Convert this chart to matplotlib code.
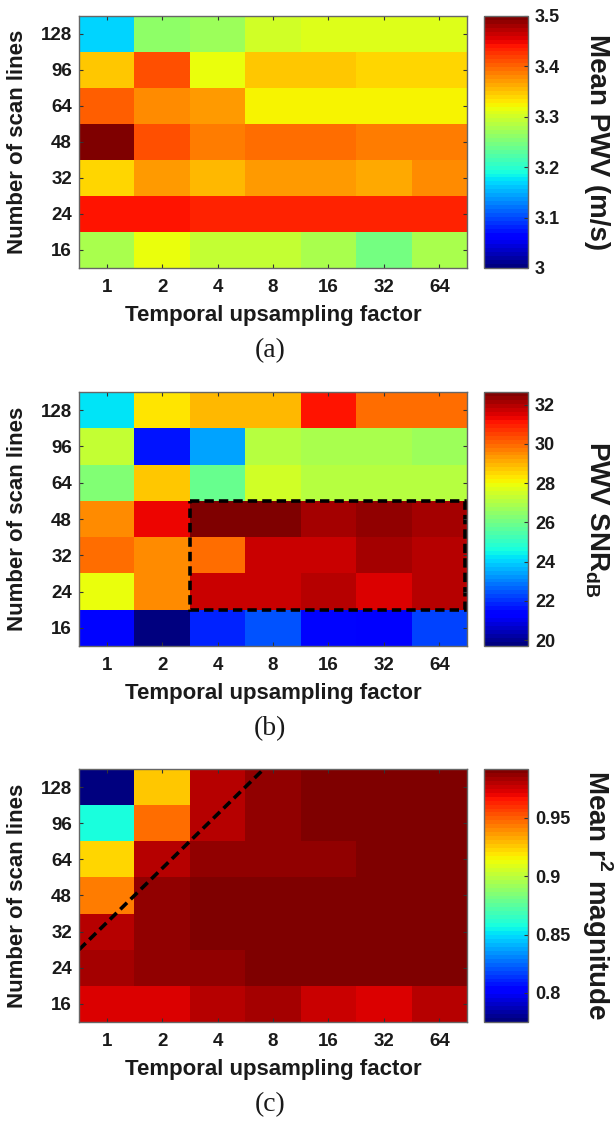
import numpy as np
import matplotlib.pyplot as plt
from matplotlib.colors import Normalize
from matplotlib.patches import Rectangle
from matplotlib.ticker import FuncFormatter

plt.rcParams['font.family'] = ['Liberation Sans', 'DejaVu Sans']
plt.rcParams['mathtext.fontset'] = 'custom'
plt.rcParams['mathtext.rm'] = 'Liberation Sans'
plt.rcParams['mathtext.bf'] = 'Liberation Sans:bold'

factors = ["1", "2", "4", "8", "16", "32", "64"]
scan_lines = ["128", "96", "64", "48", "32", "24", "16"]

# rows follow scan_lines (top to bottom), columns follow factors
mean_pwv = [
    [3.170, 3.265, 3.270, 3.300, 3.310, 3.310, 3.305],
    [3.350, 3.410, 3.320, 3.345, 3.345, 3.340, 3.340],
    [3.405, 3.380, 3.370, 3.328, 3.328, 3.328, 3.328],
    [3.500, 3.410, 3.385, 3.395, 3.395, 3.390, 3.390],
    [3.340, 3.370, 3.355, 3.370, 3.370, 3.360, 3.380],
    [3.445, 3.440, 3.430, 3.430, 3.430, 3.430, 3.430],
    [3.275, 3.320, 3.290, 3.290, 3.275, 3.245, 3.280],
]

pwv_snr = [
    [24.2, 28.25, 28.9, 28.9, 31.1, 29.9, 29.9],
    [27.2, 21.6, 23.5, 27.0, 26.9, 26.9, 26.7],
    [26.2, 28.8, 25.8, 27.4, 27.0, 27.0, 27.0],
    [29.5, 31.35, 32.65, 32.5, 32.2, 32.35, 32.2],
    [30.0, 29.6, 30.0, 31.8, 31.8, 32.1, 31.9],
    [27.9, 29.5, 31.8, 31.8, 32.0, 31.6, 32.0],
    [21.5, 19.7, 21.8, 22.4, 21.5, 21.3, 22.2],
]

mean_r2 = [
    [0.775, 0.925, 0.980, 0.9877, 0.990, 0.990, 0.990],
    [0.857, 0.946, 0.980, 0.9877, 0.990, 0.990, 0.990],
    [0.923, 0.979, 0.9877, 0.9877, 0.9877, 0.9916, 0.9916],
    [0.944, 0.9877, 0.992, 0.992, 0.992, 0.992, 0.992],
    [0.979, 0.9877, 0.990, 0.990, 0.990, 0.990, 0.990],
    [0.983, 0.9877, 0.9877, 0.990, 0.990, 0.990, 0.990],
    [0.9725, 0.9746, 0.980, 0.983, 0.977, 0.9725, 0.981],
]

# dashed box on the SNR map: columns 4..64, rows 48..24
box_cols = ("4", "64")
box_rows = ("48", "24")

# dashed diagonal on the r^2 map, through two cell corners
# (corners counted as columns from the left edge, rows from the bottom edge)
diag_corners = [(0, 2), (2, 5)]

W, H = 614, 1123
fig = plt.figure(figsize=(W / 100, H / 100), dpi=100)
cmap = plt.get_cmap('jet', 64)
txt = '#1a1a1a'
frame = '#666666'


def px_axes(x0, y0, x1, y1):
    return fig.add_axes([x0 / W, 1 - y1 / H, (x1 - x0) / W, (y1 - y0) / H])


panels = [
    (mean_pwv, 16, 268, (3.0, 3.5), [3.0, 3.1, 3.2, 3.3, 3.4, 3.5],
     "Mean PWV (m/s)", "(a)"),
    (pwv_snr, 392, 646, None, [20, 22, 24, 26, 28, 30, 32],
     r"PWV SNR$_\mathbf{dB}$", "(b)"),
    (mean_r2, 769, 1022, None, [0.8, 0.85, 0.9, 0.95],
     r"Mean r$^\mathbf{2}$ magnitude", "(c)"),
]

axes = []
for data, top, bottom, lims, cticks, clabel, tag in panels:
    arr = np.array(data)
    if lims is None:
        lims = (arr.min(), arr.max())
    ax = px_axes(79, top, 467, bottom)
    im = ax.imshow(arr, cmap=cmap, norm=Normalize(*lims), aspect='auto',
                   interpolation='nearest')
    ax.set_xticks(range(len(factors)))
    ax.set_xticklabels(factors)
    ax.set_yticks(range(len(scan_lines)))
    ax.set_yticklabels(scan_lines)
    ax.tick_params(direction='in', length=3, width=0.8, top=True, right=True,
                   labelsize=13.5, labelcolor=txt, color='#333333')
    ax.tick_params(axis='x', pad=8)
    ax.tick_params(axis='y', pad=5)
    for lab in ax.get_xticklabels() + ax.get_yticklabels():
        lab.set_fontweight('bold')
    for sp in ax.spines.values():
        sp.set_color(frame)
        sp.set_linewidth(1)
    h = bottom - top
    ax.set_xlabel("Temporal upsampling factor", fontsize=16, fontweight='bold',
                  color=txt, va='center')
    ax.xaxis.set_label_coords(0.5, -47 / h)
    ax.set_ylabel("Number of scan lines", fontsize=16, fontweight='bold',
                  color=txt, va='center')
    ax.yaxis.set_label_coords((17 - 79) / 388, 0.5)

    cax = px_axes(484, top, 528, bottom)
    cb = fig.colorbar(im, cax=cax, ticks=cticks)
    cb.outline.set_edgecolor(frame)
    cb.outline.set_linewidth(1)
    cax.yaxis.set_major_formatter(FuncFormatter(lambda v, p: f"{v:g}"))
    cax.tick_params(direction='in', length=3, width=0.8, pad=5,
                    labelsize=13, labelcolor=txt, color='#333333')
    for lab in cax.get_yticklabels():
        lab.set_fontweight('bold')

    fig.text(597 / W, 1 - (top + bottom) / 2 / H, clabel, rotation=-90,
             ha='center', va='center', fontsize=20, fontweight='bold',
             color=txt)
    fig.text(270 / W, 1 - (bottom + 83) / H, tag, ha='center', va='center',
             fontsize=20, family='Liberation Serif', color=txt)
    axes.append(ax)

# box around the high-SNR block
ax_b = axes[1]
c0, c1 = factors.index(box_cols[0]), factors.index(box_cols[1])
r0, r1 = scan_lines.index(box_rows[0]), scan_lines.index(box_rows[1])
ax_b.add_patch(Rectangle((c0 - 0.5, r0 - 0.5), c1 - c0 + 0.97, r1 - r0 + 1,
                         fill=False, ec='black', lw=2.6,
                         ls=(0, (2.6, 1.4)), clip_on=False))

# diagonal separating the low-r^2 corner
ax_c = axes[2]
n = len(scan_lines)
(ca, ra), (cb_, rb) = diag_corners
slope = (rb - ra) / (cb_ - ca)
c_end = ca + (n - ra) / slope
xs = np.array([ca, c_end]) - 0.5
ys = n - 0.5 - np.array([ra, n])
ax_c.plot(xs, ys, color='black', lw=2.6, ls=(0, (2.6, 1.4)))
ax_c.set_xlim(-0.5, len(factors) - 0.5)
ax_c.set_ylim(n - 0.5, -0.5)

fig.savefig("out.png", dpi=100)
